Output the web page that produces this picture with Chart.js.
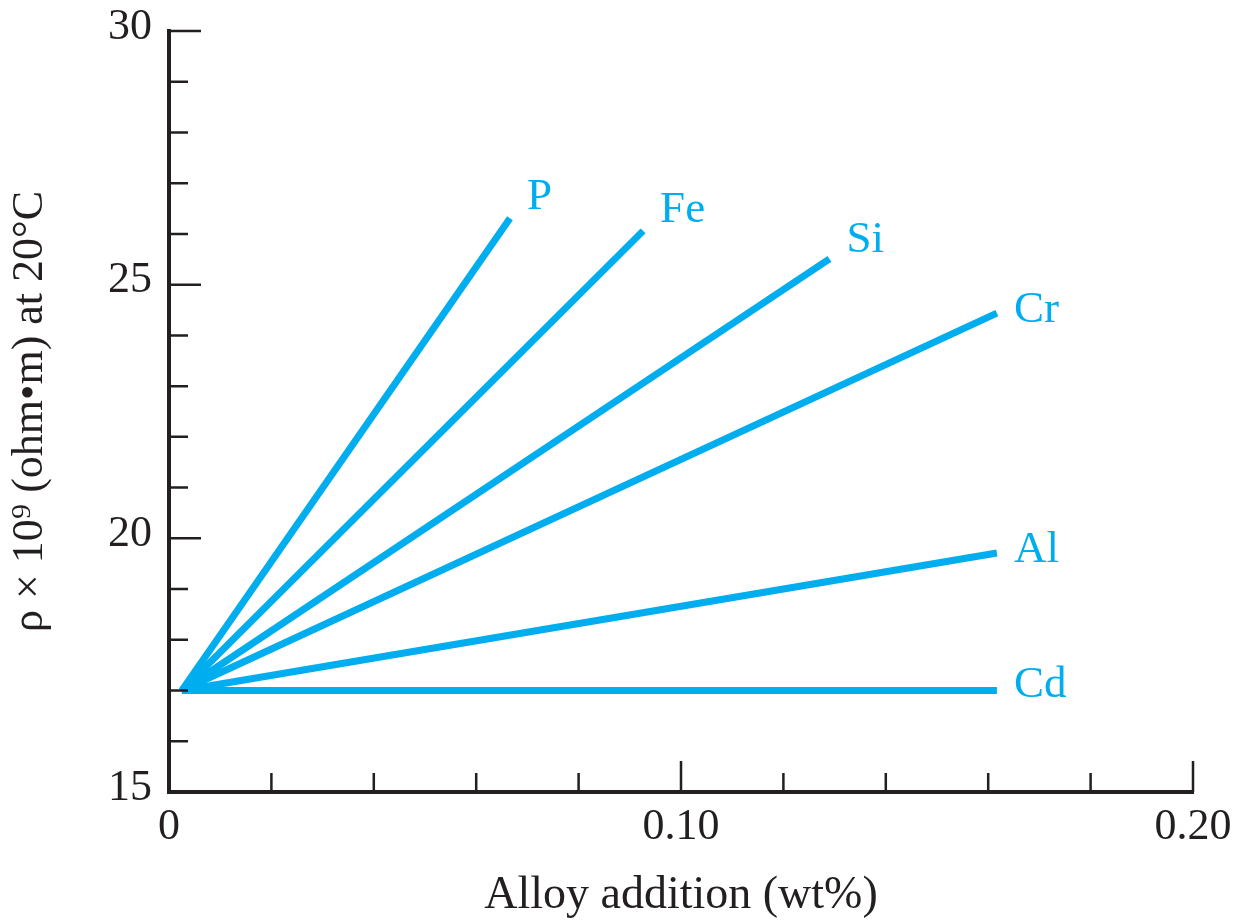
<!DOCTYPE html>
<html>
<head>
<meta charset="utf-8">
<title>Resistivity of copper alloys</title>
<script src="https://cdn.jsdelivr.net/npm/chart.js@4/dist/chart.umd.min.js"></script>
<style>
  html, body { margin: 0; padding: 0; background: #fff; }
  canvas { display: block; }
</style>
</head>
<body>
<canvas id="resistivity" width="1238" height="924"></canvas>
<script>
// alloying elements and where each resistivity line ends
const elements = ['P', 'Fe', 'Si', 'Cr', 'Al', 'Cd'];
const startWt = 0.0025;
const startRho = 17.0;
const endWt = [0.0666, 0.0926, 0.129, 0.1617, 0.1617, 0.1617];
const endRho = [26.31, 26.06, 25.51, 24.44, 19.71, 17.0];

// axis ticks
const xMajor = [0, 0.10, 0.20];
const yMajor = [15, 20, 25, 30];

const ink = '#231f20';
const blue = '#00aeef';
const serif = '"Liberation Serif", "Times New Roman", serif';

// vertical nudge for the element names at the line ends
const nameLift = [-21, -21, -19, -3, -3, -5];

const insideTicks = {
  id: 'insideTicks',
  afterDatasetsDraw(chart) {
    const { ctx, scales: { x, y } } = chart;
    ctx.save();
    ctx.strokeStyle = ink;
    ctx.lineWidth = 2.5;
    ctx.beginPath();
    for (let i = 1; i <= 10; i++) {
      const v = i * 0.02;
      const px = x.getPixelForValue(v);
      const len = i % 5 === 0 ? 31 : 19;
      ctx.moveTo(px, y.bottom);
      ctx.lineTo(px, y.bottom - len);
    }
    for (let v = 16; v <= 30; v++) {
      const py = y.getPixelForValue(v);
      const len = yMajor.includes(v) ? 32 : 19;
      ctx.moveTo(x.left, py);
      ctx.lineTo(x.left + len, py);
    }
    ctx.stroke();
    ctx.restore();
  }
};

const endNames = {
  id: 'endNames',
  afterDatasetsDraw(chart) {
    const { ctx } = chart;
    ctx.save();
    ctx.font = '45px ' + serif;
    ctx.fillStyle = blue;
    ctx.textAlign = 'left';
    ctx.textBaseline = 'middle';
    chart.data.datasets.forEach((ds, i) => {
      const pts = chart.getDatasetMeta(i).data;
      const end = pts[pts.length - 1];
      ctx.fillText(ds.label, end.x + 17, end.y + nameLift[i]);
    });
    ctx.restore();
  }
};

new Chart(document.getElementById('resistivity'), {
  type: 'scatter',
  data: {
    datasets: elements.map((el, i) => ({
      label: el,
      data: [{ x: startWt, y: startRho }, { x: endWt[i], y: endRho[i] }],
      showLine: true,
      borderColor: blue,
      borderWidth: 7,
      borderCapStyle: 'butt',
      pointRadius: 0,
      pointHoverRadius: 0
    }))
  },
  options: {
    responsive: false,
    animation: false,
    events: [],
    layout: { padding: { top: 31, right: 45, left: 0, bottom: 0 } },
    plugins: {
      legend: { display: false },
      tooltip: { enabled: false }
    },
    scales: {
      x: {
        type: 'linear',
        min: 0,
        max: 0.2,
        afterFit(scale) {
          scale.height = 132;
          scale.paddingLeft = 0;
          scale.paddingRight = 0;
        },
        afterBuildTicks(scale) { scale.ticks = xMajor.map(v => ({ value: v })); },
        grid: { display: false, drawTicks: false },
        border: { display: true, color: ink, width: 4 },
        ticks: {
          padding: 9,
          color: ink,
          font: { family: serif, size: 44 },
          maxRotation: 0,
          autoSkip: false,
          callback: v => (v === 0 ? '0' : v.toFixed(2))
        },
        title: {
          display: true,
          text: 'Alloy addition (wt%)',
          color: ink,
          font: { family: serif, size: 46 },
          padding: { top: 0, bottom: 0 }
        }
      },
      y: {
        type: 'linear',
        min: 15,
        max: 30,
        afterFit(scale) {
          scale.width = 169;
          scale.paddingTop = 0;
          scale.paddingBottom = 0;
        },
        afterBuildTicks(scale) { scale.ticks = yMajor.map(v => ({ value: v })); },
        grid: { display: false, drawTicks: false },
        border: { display: true, color: ink, width: 4 },
        ticks: {
          padding: 17,
          labelOffset: -4,
          color: ink,
          font: { family: serif, size: 44 },
          autoSkip: false
        },
        title: {
          display: true,
          text: 'ρ × 10⁹ (ohm•m) at 20°C',
          color: ink,
          font: { family: serif, size: 44 },
          padding: { top: 4, bottom: 0 }
        }
      }
    }
  },
  plugins: [insideTicks, endNames]
});
</script>
</body>
</html>
